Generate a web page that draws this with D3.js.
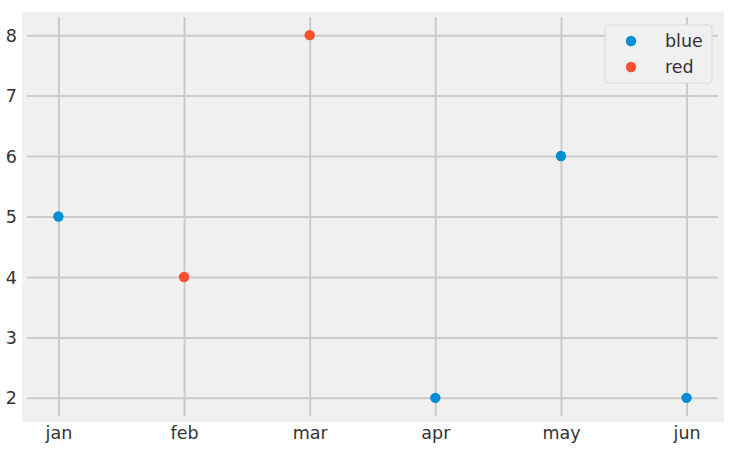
<!DOCTYPE html>
<html><head><meta charset="utf-8">
<script src="https://cdn.jsdelivr.net/npm/d3@7"></script>
<style>body{margin:0;background:#fff}svg{display:block}text{font-family:"DejaVu Sans",sans-serif}</style>
</head><body><svg id="c" width="740" height="457"></svg>
<script>
const months = ["jan","feb","mar","apr","may","jun"];
const values = [5,4,8,2,6,2];
const groups = ["blue","red","red","blue","blue","blue"];
const seriesNames = ["blue","red"];
const seriesColors = ["#008fd5","#fc4f30"];
const yTicks = [2,3,4,5,6,7,8];

const svg = d3.select("#c");
const L = 27, R = 718, T = 17, B = 416;
svg.append("rect").attr("x",22).attr("y",12).attr("width",702).attr("height",410).attr("fill","#f0f0f0");

const x = d3.scaleLinear().domain([-0.25, 5.25]).range([L, R]);
const y = d3.scaleLinear().domain([1.7, 8.3]).range([B, T]);
const color = d3.scaleOrdinal().domain(seriesNames).range(seriesColors);

const xAxis = d3.axisBottom(x).tickValues(d3.range(months.length)).tickFormat(i => months[i]).tickSize(-(B-T)).tickPadding(7);
const gx = svg.append("g").attr("transform",`translate(0,${B})`).call(xAxis);
const yAxis = d3.axisLeft(y).tickValues(yTicks).tickFormat(d3.format("d")).tickSize(-(R-L)).tickPadding(10);
const gy = svg.append("g").attr("transform",`translate(${L},0)`).call(yAxis);
[gx,gy].forEach(g=>{
  g.select(".domain").remove();
  g.selectAll(".tick line").attr("stroke","#cbcbcb").attr("stroke-width",2);
  g.selectAll(".tick text").attr("fill","#333").style("font-size","17.5px").style("font-family","DejaVu Sans");
});
gx.selectAll(".tick text").attr("dy","0.9em");
gy.selectAll(".tick text").attr("dy","0.35em");

svg.append("g").selectAll("circle").data(values).join("circle")
  .attr("cx",(d,i)=>x(i)).attr("cy",d=>y(d)).attr("r",5.2)
  .attr("fill",(d,i)=>color(groups[i]));

const lg = svg.append("g");
lg.append("rect").attr("x",605).attr("y",25).attr("width",107).attr("height",58).attr("rx",3)
  .attr("fill","#f0f0f0").attr("stroke","#d8d8d8").attr("stroke-width",1);
seriesNames.forEach((s,i)=>{
  const yy = 41 + i*26;
  lg.append("circle").attr("cx",631).attr("cy",yy).attr("r",5.2).attr("fill",color(s));
  lg.append("text").attr("x",665).attr("y",yy).attr("dy","0.35em").attr("fill","#333").style("font-size","17.5px").text(s);
});
</script></body></html>
